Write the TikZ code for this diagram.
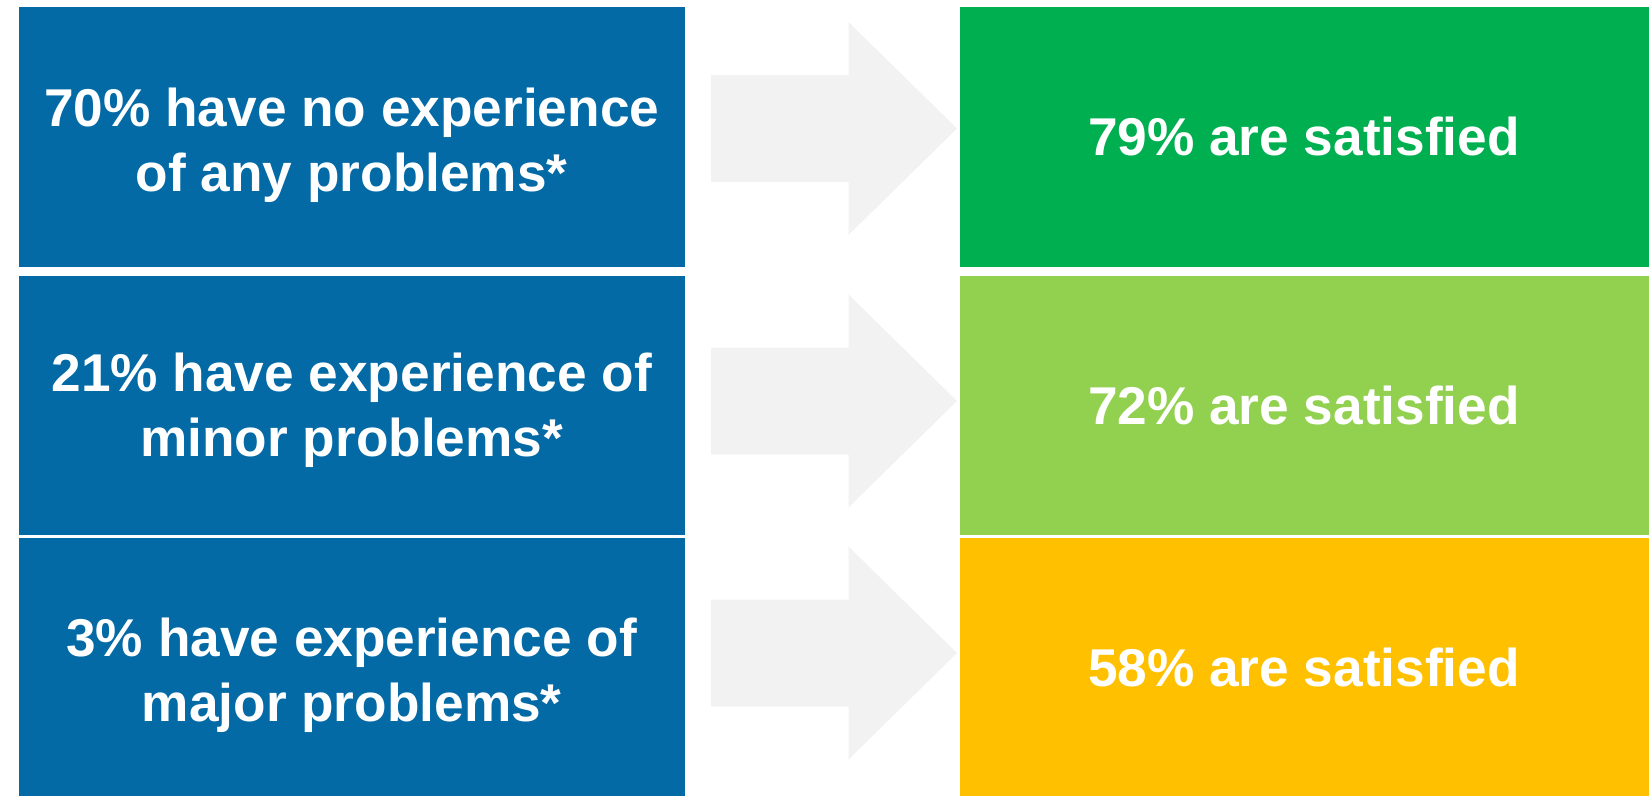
\documentclass[tikz,border=0pt]{standalone}
\usepackage{fontspec}
\setmainfont{Liberation Sans}
\definecolor{boxblue}{HTML}{036AA6}
\definecolor{okgreen}{HTML}{00B050}
\definecolor{limegreen}{HTML}{92D050}
\definecolor{amber}{HTML}{FFC000}
\definecolor{arrowgrey}{HTML}{F2F2F2}
\begin{document}
\begin{tikzpicture}[x=1pt,y=-1pt,
  panel/.style={inner sep=0pt, outer sep=0pt, text=white, align=center,
    font=\fontsize{53.2}{65}\selectfont\bfseries},
  fatarrow/.style={fill=arrowgrey, draw=none}]
\useasboundingbox (0,0) rectangle (1649,796);

% left column: share of respondents by problem experience
\fill[boxblue] (19,6.5) rectangle (684.5,267);
\fill[boxblue] (19,275.5) rectangle (684.5,535);
\fill[boxblue] (19,538) rectangle (684.5,796);
\node[panel] (l1) at (351.75,145.5) {70\% have no experience\\of any problems*};
\node[panel] (l2) at (351.75,410) {21\% have experience of\\minor problems*};
\node[panel] (l3) at (351.75,675.5) {3\% have experience of\\major problems*};

% right column: satisfaction per group
\fill[okgreen] (960,6.5) rectangle (1648.5,267);
\fill[limegreen] (960,275.5) rectangle (1648.5,535);
\fill[amber] (960,538) rectangle (1648.5,796);
\node[panel] (r1) at (1304,136) {79\% are satisfied};
\node[panel] (r2) at (1304,405) {72\% are satisfied};
\node[panel] (r3) at (1304,667) {58\% are satisfied};

% block arrows between the columns
\foreach \cy in {128.5, 401, 653} {
  \fill[fatarrow] (711,\cy-53.5) -- (848.5,\cy-53.5) -- (848.5,\cy-106.5)
    -- (957,\cy) -- (848.5,\cy+106.5) -- (848.5,\cy+53.5) -- (711,\cy+53.5) -- cycle;
}
\end{tikzpicture}
\end{document}
